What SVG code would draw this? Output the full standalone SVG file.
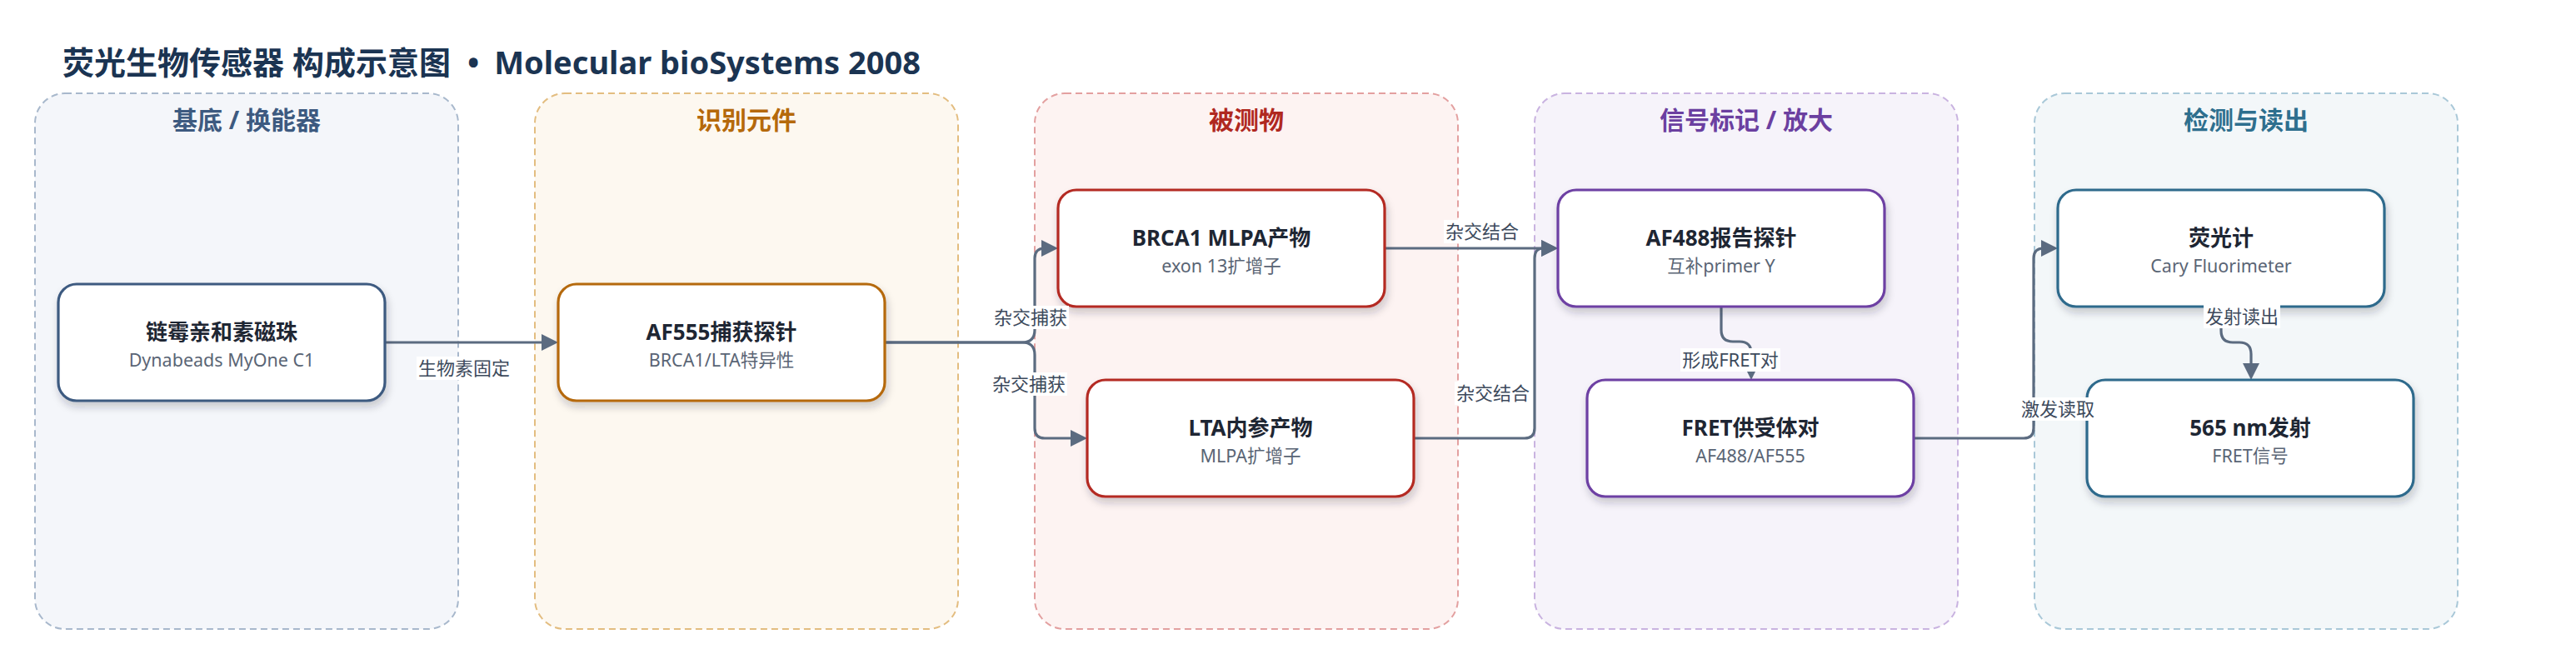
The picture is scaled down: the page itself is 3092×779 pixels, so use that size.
<svg xmlns="http://www.w3.org/2000/svg" width="3092" height="779" viewBox="0 0 3092 779">
<defs>
<style>
.gbox{stroke-width:2;stroke-dasharray:8 5}
.gt{font-family:"Noto Sans","Noto Sans CJK SC",sans-serif;font-size:30px;font-weight:700;text-anchor:middle}
.node{fill:#ffffff;stroke-width:3.2;filter:url(#sh)}
.nt{font-family:"Noto Sans","Noto Sans CJK SC",sans-serif;font-size:26px;font-weight:700;fill:#1e2633;text-anchor:middle}
.ns{font-family:"Noto Sans","Noto Sans CJK SC",sans-serif;font-size:21.5px;fill:#5a6575;text-anchor:middle}
.edge{fill:none;stroke:#5b6b80;stroke-width:3.2;marker-end:url(#arr)}
.lbg{fill:#ffffff}
.lt{font-family:"Noto Sans","Noto Sans CJK SC",sans-serif;font-size:22px;fill:#3d4a5c;text-anchor:middle}
</style>
<filter id="sh" x="-10%" y="-20%" width="120%" height="150%">
<feDropShadow dx="2" dy="6" stdDeviation="5" flood-color="#1e2633" flood-opacity="0.22"/>
</filter>
<marker id="arr" markerUnits="userSpaceOnUse" markerWidth="20" markerHeight="20" refX="10" refY="10" orient="auto">
<path d="M0,0 L20,10 L0,20 z" fill="#5b6b80"/>
</marker>
</defs>
<rect width="3092" height="779" fill="#ffffff"/>
<text x="75" y="89" font-family="'Noto Sans','Noto Sans CJK SC',sans-serif" font-size="38" font-weight="700" fill="#1b3452">荧光生物传感器 构成示意图<tspan dx="20">•</tspan><tspan dx="18">Molecular bioSystems 2008</tspan></text>

<g id="group-substrate">
<rect class="gbox" x="42" y="112" width="508" height="643" rx="36" fill="#f4f6fa" stroke="#a8b8cc"/>
<text class="gt" x="296" y="155" fill="#3d5a80">基底 / 换能器</text>
</g>
<g id="group-recognition">
<rect class="gbox" x="642" y="112" width="508" height="643" rx="36" fill="#fdf8f0" stroke="#e3bd80"/>
<text class="gt" x="896" y="155" fill="#b5690b">识别元件</text>
</g>
<g id="group-analyte">
<rect class="gbox" x="1242" y="112" width="508" height="643" rx="36" fill="#fdf3f2" stroke="#e3a0a0"/>
<text class="gt" x="1496" y="155" fill="#b0281f">被测物</text>
</g>
<g id="group-label">
<rect class="gbox" x="1842" y="112" width="508" height="643" rx="36" fill="#f6f3fa" stroke="#c9b3e0"/>
<text class="gt" x="2096" y="155" fill="#6b3fa0">信号标记 / 放大</text>
</g>
<g id="group-detect">
<rect class="gbox" x="2442" y="112" width="508" height="643" rx="36" fill="#f3f7f9" stroke="#a9c8d8"/>
<text class="gt" x="2696" y="155" fill="#2e6f8e">检测与读出</text>
</g>

<g id="connectors">
<path class="edge" d="M463,411 H660"/>
<path class="edge" d="M1062,411 H1227 Q1242,411 1242,396 V310 Q1242,298 1254,298 H1260"/>
<path class="edge" d="M1062,411 H1227 Q1242,411 1242,426 V514 Q1242,526 1254,526 H1295"/>
<path class="edge" d="M1662,298 H1860"/>
<path class="edge" d="M1697,526 H1830 Q1842,526 1842,514 V310 Q1842,298 1852,298 H1860"/>
<path class="edge" d="M2066,368 V396 Q2066,410 2080,410 H2088 Q2102,410 2102,424 V446"/>
<path class="edge" d="M2297,526 H2429 Q2441,526 2441,514 V310 Q2441,298 2453,298 H2460"/>
<path class="edge" d="M2666,368 V397 Q2666,411 2680,411 H2688 Q2702,411 2702,425 V446"/>
</g>

<g id="node-beads">
<rect class="node" x="70" y="341" width="392" height="140" rx="22" stroke="#3d5a80"/>
<text class="nt" x="266" y="408">链霉亲和素磁珠</text>
<text class="ns" x="266" y="440">Dynabeads MyOne C1</text>
</g>
<g id="node-capture">
<rect class="node" x="670" y="341" width="392" height="140" rx="22" stroke="#b5690b"/>
<text class="nt" x="866" y="408">AF555捕获探针</text>
<text class="ns" x="866" y="440">BRCA1/LTA特异性</text>
</g>
<g id="node-brca1">
<rect class="node" x="1270" y="228" width="392" height="140" rx="22" stroke="#b42a24"/>
<text class="nt" x="1466" y="295">BRCA1 MLPA产物</text>
<text class="ns" x="1466" y="327">exon 13扩增子</text>
</g>
<g id="node-lta">
<rect class="node" x="1305" y="456" width="392" height="140" rx="22" stroke="#b42a24"/>
<text class="nt" x="1501" y="523">LTA内参产物</text>
<text class="ns" x="1501" y="555">MLPA扩增子</text>
</g>
<g id="node-reporter">
<rect class="node" x="1870" y="228" width="392" height="140" rx="22" stroke="#6d3fa3"/>
<text class="nt" x="2066" y="295">AF488报告探针</text>
<text class="ns" x="2066" y="327">互补primer Y</text>
</g>
<g id="node-fret">
<rect class="node" x="1905" y="456" width="392" height="140" rx="22" stroke="#6d3fa3"/>
<text class="nt" x="2101" y="523">FRET供受体对</text>
<text class="ns" x="2101" y="555">AF488/AF555</text>
</g>
<g id="node-fluorimeter">
<rect class="node" x="2470" y="228" width="392" height="140" rx="22" stroke="#2e6a8c"/>
<text class="nt" x="2666" y="295">荧光计</text>
<text class="ns" x="2666" y="327">Cary Fluorimeter</text>
</g>
<g id="node-emission">
<rect class="node" x="2505" y="456" width="392" height="140" rx="22" stroke="#2e6a8c"/>
<text class="nt" x="2701" y="523">565 nm发射</text>
<text class="ns" x="2701" y="555">FRET信号</text>
</g>

<g id="connector-labels">
<rect class="lbg" x="500" y="428" width="114" height="28"/>
<text class="lt" x="557" y="450">生物素固定</text>
<rect class="lbg" x="1191" y="367" width="92" height="28"/>
<text class="lt" x="1237" y="389">杂交捕获</text>
<rect class="lbg" x="1189" y="447" width="92" height="28"/>
<text class="lt" x="1235" y="469">杂交捕获</text>
<rect class="lbg" x="1733" y="264" width="92" height="28"/>
<text class="lt" x="1779" y="286">杂交结合</text>
<rect class="lbg" x="1746" y="458" width="92" height="28"/>
<text class="lt" x="1792" y="480">杂交结合</text>
<rect class="lbg" x="2017" y="418" width="120" height="28"/>
<text class="lt" x="2077" y="440">形成FRET对</text>
<rect class="lbg" x="2424" y="477" width="92" height="28"/>
<text class="lt" x="2470" y="499">激发读取</text>
<rect class="lbg" x="2645" y="366" width="92" height="28"/>
<text class="lt" x="2691" y="388">发射读出</text>
</g>
</svg>
